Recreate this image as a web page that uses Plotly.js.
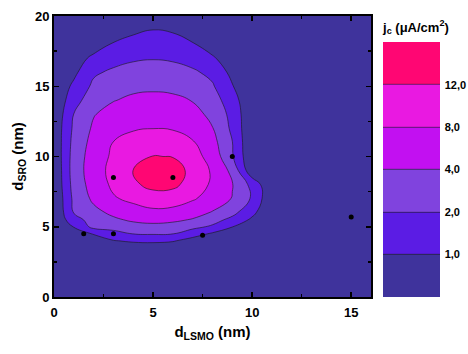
<!DOCTYPE html>
<html>
<head>
<meta charset="utf-8">
<script src="https://cdn.plot.ly/plotly-3.0.1.min.js"></script>
<style>
html,body{margin:0;padding:0;background:#ffffff;}
#chart{width:468px;height:354px;}
</style>
</head>
<body>
<div id="chart"></div>
<script>
// grid of d_LSMO (nm) and d_SRO (nm)
const dLSMO = [0,1,2,3,4,5,6,7,8,9,10,11,12,13,14,15,16];
const dSRO = [0,1,2,3,3.5,4,4.5,5,5.5,6,7,8,9,10,11,12,13,14,15,16,17,18,19,20];
// j_c (uA/cm^2), one row per d_SRO value
const jcRows = [
  [0.05,0.05,0.05,0.05,0.05,0.05,0.05,0.05,0.05,0.05,0.05,0.05,0.05,0.05,0.05,0.05,0.05],
  [0.05,0.05,0.05,0.05,0.05,0.05,0.05,0.05,0.05,0.05,0.05,0.05,0.05,0.05,0.05,0.05,0.05],
  [0.05,0.05,0.06,0.08,0.1,0.1,0.1,0.08,0.06,0.05,0.05,0.05,0.05,0.05,0.05,0.05,0.05],
  [0.05,0.06,0.1,0.15,0.2,0.22,0.2,0.15,0.1,0.08,0.05,0.05,0.05,0.05,0.05,0.05,0.05],
  [0.05,0.08,0.15,0.25,0.32,0.35,0.3,0.25,0.15,0.1,0.1,0.08,0.06,0.05,0.05,0.05,0.05],
  [0.05,0.1,0.3,0.94,1.17,1.23,1.09,0.58,0.3,0.15,0.1,0.08,0.06,0.05,0.05,0.05,0.05],
  [0.05,0.19,1.09,1.7,2.04,2.16,2.04,1.46,0.85,0.3,0.15,0.1,0.08,0.06,0.05,0.05,0.05],
  [0.05,1.05,2.6,2.64,3.26,3.48,3.26,2.52,1.85,1.02,0.5,0.15,0.1,0.08,0.06,0.05,0.05],
  [0.02,1.65,2.74,3.68,4.64,5.12,4.76,3.86,2.76,1.72,0.82,0.2,0.1,0.08,0.06,0.05,0.05],
  [0.02,2.06,3.44,4.8,6.24,6.92,6.6,5.48,3.84,2.56,1.25,0.05,0.1,0.08,0.06,0.05,0.05],
  [0.02,2.44,4.76,7.6,8.92,10.4,10.08,8.4,6.44,3.9,1.88,0.12,0.1,0.08,0.06,0.05,0.05],
  [0.09,2.74,5.68,8.76,11.4,13.0,12.88,10.44,7.32,4.2,1.7,0.05,0.08,0.08,0.06,0.05,0.05],
  [0.1,2.92,6.12,9.24,12.04,14.0,13.48,11.08,7.44,3.5,0.25,0.12,0.1,0.08,0.06,0.05,0.05],
  [0.17,2.84,5.88,8.68,10.56,12.12,11.88,9.52,6.48,2.2,0.1,0.1,0.1,0.08,0.06,0.05,0.05],
  [0.22,2.64,5.32,8.08,9.16,10.09,9.78,8.28,5.32,2.04,0.05,0.08,0.1,0.08,0.06,0.05,0.05],
  [0.25,2.36,4.6,6.84,7.72,7.96,7.74,6.91,4.16,1.8,0.1,0.1,0.1,0.08,0.06,0.05,0.05],
  [0.17,2.04,3.89,5.48,6.23,6.51,6.25,5.52,3.44,1.71,0.1,0.1,0.1,0.08,0.06,0.05,0.05],
  [0.11,1.62,3.14,3.92,4.74,4.98,4.75,3.92,2.88,1.45,0.1,0.1,0.1,0.08,0.06,0.05,0.05],
  [0.16,1.2,2.4,3.21,3.56,3.68,3.56,3.18,2.2,1.05,0.3,0.2,0.12,0.08,0.06,0.05,0.05],
  [0.35,0.77,1.85,2.33,2.68,2.8,2.67,2.29,1.75,0.71,0.4,0.25,0.15,0.1,0.08,0.06,0.05],
  [0.3,0.63,1.17,1.65,1.88,1.95,1.88,1.62,1.11,0.48,0.3,0.2,0.14,0.1,0.08,0.06,0.05],
  [0.2,0.35,0.61,1.07,1.35,1.48,1.39,1.07,0.57,0.35,0.25,0.18,0.12,0.1,0.08,0.06,0.05],
  [0.15,0.2,0.3,0.5,0.81,1.02,0.9,0.5,0.3,0.22,0.18,0.12,0.1,0.08,0.06,0.05,0.05],
  [0.1,0.12,0.18,0.28,0.4,0.5,0.45,0.33,0.22,0.15,0.12,0.1,0.08,0.06,0.05,0.05,0.05]
];
// contour levels of j_c and their colour-bar labels
const jcLevels = [0,1,2,4,8,12,16];
const levelLabels = ['1,0','2,0','4,0','8,0','12,0'];
const bandColors = ['#3f339c','#5b1ce4','#8043de','#c210f1','#e919e1','#ff0673'];
// measured samples
const sampleX = [1.5,3,3,6,7.5,9,15];
const sampleY = [4.5,4.5,8.5,8.5,4.4,10,5.7];

// map j_c onto equally spaced band index (levels are 1,2,4,8,12)
function toBand(v){
  for(let i=0;i<jcLevels.length-1;i++){
    const a=jcLevels[i], b=jcLevels[i+1];
    if(v<=b) return i+(v-a)/(b-a);
  }
  return jcLevels.length-1;
}
const zBand = jcRows.map(r=>r.map(toBand));
const nb = bandColors.length;
const cscale = bandColors.map((c,i)=>[i/(nb-1), c]);

const FONT = 'Arial, "Liberation Sans", sans-serif';

const contour = {
  type:'contour', x:dLSMO, y:dSRO, z:zBand,
  zmin:0, zmax:6, autocontour:false,
  contours:{start:1, end:5, size:1, coloring:'fill', showlines:true},
  line:{color:'#1a1a1a', width:0.6, smoothing:1.3},
  colorscale:cscale, showscale:true, hoverinfo:'skip',
  colorbar:{
    x:1.038, xanchor:'left', xpad:0,
    y:0, yanchor:'bottom', ypad:0,
    len:0.99, lenmode:'fraction',
    thickness:57, outlinewidth:0,
    tickmode:'array', tickvals:[1,2,3,4,5], ticktext:levelLabels,
    ticks:'outside', ticklen:3, tickcolor:'rgba(0,0,0,0)',
    tickfont:{family:FONT, size:11, color:'#000', weight:'bold'},
    title:{text:'j<sub>c</sub> (μA/cm<sup>2</sup>)', side:'top',
           font:{family:FONT, size:13, color:'#000', weight:'bold'}}
  }
};
const samples = {
  type:'scatter', mode:'markers', x:sampleX, y:sampleY,
  marker:{color:'#000', size:5}, hoverinfo:'skip', showlegend:false
};

const axisCommon = {
  showgrid:false, zeroline:false, showline:true, linewidth:2, linecolor:'#000',
  mirror:'ticks', ticks:'inside', ticklen:5, tickwidth:1.5, tickcolor:'#000',
  tickfont:{family:FONT, size:13, color:'#000', weight:'bold'}
};
const layout = {
  width:468, height:354,
  margin:{l:54, r:97, t:16, b:57, autoexpand:false},
  paper_bgcolor:'#fff', plot_bgcolor:'#fff',
  showlegend:false,
  xaxis:Object.assign({}, axisCommon, {
    range:[0,16], tickvals:[0,5,10,15], ticklabelstandoff:2,
    minor:{tickvals:[2.5,7.5,12.5], ticks:'inside', ticklen:3, tickwidth:1.5, tickcolor:'#000'},
    title:{text:'d<sub>LSMO</sub> (nm)', font:{family:FONT, size:15, color:'#000', weight:'bold'}, standoff:8}
  }),
  yaxis:Object.assign({}, axisCommon, {
    range:[0,20], tickvals:[0,5,10,15,20],
    minor:{tickvals:[2.5,7.5,12.5,17.5], ticks:'inside', ticklen:3, tickwidth:1.5, tickcolor:'#000'},
    title:{text:'d<sub>SRO</sub> (nm)', font:{family:FONT, size:15, color:'#000', weight:'bold'}, standoff:8}
  })
};
Plotly.newPlot('chart', [contour, samples], layout, {displayModeBar:false, staticPlot:true});
</script>
</body>
</html>
